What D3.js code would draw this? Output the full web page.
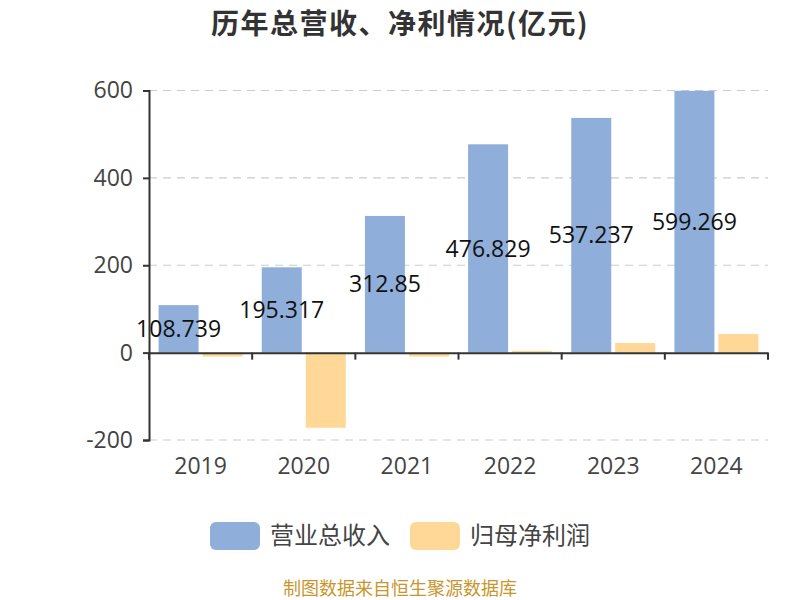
<!DOCTYPE html>
<html><head><meta charset="utf-8">
<script src="https://cdn.jsdelivr.net/npm/d3@7"></script>
<style>body{margin:0;background:#fff}svg{display:block}text{font-family:"Noto Sans CJK SC","Noto Sans",sans-serif}.num{font-family:"Open Sans","Noto Sans",sans-serif}</style>
</head><body><svg id="c" width="800" height="600"></svg>
<script>
const years = ["2019","2020","2021","2022","2023","2024"];
const revenue = [108.739,195.317,312.85,476.829,537.237,599.269];
const netProfit = [-9,-172,-9,4,22,42.5];
const yTicks = [-200,0,200,400,600];
const seriesNames = ["营业总收入","归母净利润"];
const colors = ["#8FAEDA","#FFD897"];

(function(){
const svg = d3.select("#c");
const pl=149, pr=768, pt=90.5, pb=440;
const x = d3.scaleBand().domain(years).range([pl,pr]).paddingInner(0).paddingOuter(0);
const y = d3.scaleLinear().domain([-200,600]).range([pb,pt]);
const bw = 40, gap = 4;
const off = (x.bandwidth() - 2*bw - gap)/2;

svg.append("text").attr("x",400).attr("y",34).attr("text-anchor","middle")
  .attr("font-size",28).attr("letter-spacing",1.5).attr("font-weight","bold").attr("fill","#333").text("历年总营收、净利情况(亿元)");

svg.append("g").selectAll("line").data(yTicks.filter(d=>d!==0)).join("line")
  .attr("x1",pl).attr("x2",pr).attr("y1",d=>y(d)).attr("y2",d=>y(d))
  .attr("stroke","#ccc").attr("stroke-dasharray","8,6").attr("stroke-width",1.2);

svg.append("g").selectAll("rect").data(revenue).join("rect")
  .attr("x",(d,i)=>x(years[i])+off).attr("width",bw)
  .attr("y",d=>y(Math.max(0,d))).attr("height",d=>Math.abs(y(d)-y(0))).attr("fill",colors[0]);
svg.append("g").selectAll("rect").data(netProfit).join("rect")
  .attr("x",(d,i)=>x(years[i])+off+bw+gap).attr("width",bw)
  .attr("y",d=>y(Math.max(0,d))).attr("height",d=>Math.abs(y(d)-y(0))).attr("fill",colors[1]);

const ya = svg.append("g").attr("transform",`translate(${pl},0)`)
  .call(d3.axisLeft(y).tickValues(yTicks).tickSize(6).tickPadding(10).tickFormat(d=>String(d)));
ya.select(".domain").attr("stroke","#333").attr("stroke-width",2);
ya.selectAll(".tick line").attr("stroke","#333").attr("stroke-width",2);
ya.selectAll(".tick text").attr("class","num").attr("font-size",23).attr("fill","#444");
ya.attr("font-family",null);

const xa = svg.append("g").attr("transform",`translate(0,${y(0)})`)
  .call(d3.axisBottom(x).tickSize(0).tickPadding(0).tickFormat(""));
xa.select(".domain").attr("stroke","#333").attr("stroke-width",2);
svg.append("g").selectAll("line").data(d3.range(years.length+1)).join("line")
  .attr("x1",i=>pl+i*x.bandwidth()).attr("x2",i=>pl+i*x.bandwidth())
  .attr("y1",y(0)).attr("y2",y(0)+7).attr("stroke","#333").attr("stroke-width",2);
svg.append("g").selectAll("text").data(years).join("text").attr("class","num")
  .attr("x",d=>x(d)+x.bandwidth()/2).attr("y",474).attr("text-anchor","middle")
  .attr("font-size",23).attr("fill","#444").text(d=>d);

svg.append("g").selectAll("text").data(revenue).join("text").attr("class","num")
  .attr("x",(d,i)=>x(years[i])+off+bw/2).attr("y",d=>(y(d)+y(0))/2)
  .attr("dy","0.35em").attr("text-anchor","middle").attr("font-size",23).attr("fill","#111")
  .text(d=>d);

const lg = svg.append("g");
const lx = [210,410];
seriesNames.forEach((n,i)=>{
  lg.append("rect").attr("x",lx[i]).attr("y",522).attr("width",50).attr("height",28).attr("rx",6).attr("fill",colors[i]);
  lg.append("text").attr("x",lx[i]+60).attr("y",536).attr("dy","0.35em").attr("font-size",24).attr("fill","#444").text(n);
});

svg.append("text").attr("x",400).attr("y",595).attr("text-anchor","middle").attr("font-size",18)
  .attr("fill","#C9952E").text("制图数据来自恒生聚源数据库");
})();
</script></body></html>
